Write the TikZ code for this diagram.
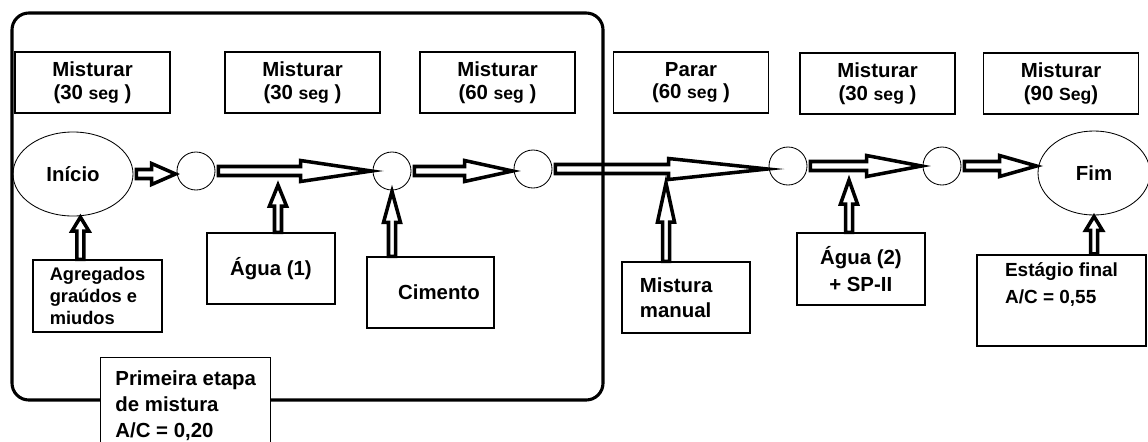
\documentclass[tikz,border=0pt]{standalone}
\usepackage{fontspec}
\setmainfont{Liberation Sans}
\usetikzlibrary{calc,shapes.geometric}

% one unit of the grid, in pt
\def\pxu{0.7113pt}
\newcommand\bigtxt{\fontsize{14.5}{16}\selectfont}
\newcommand\segtxt{\fontsize{12.5}{14}\selectfont}

% hollow block arrow pointing right, head length in grid units
\newcommand\fatright[3]{%
  \draw[fatline] let \p1=(#1), \p2=(#2) in
    (\x1+3*\pxu,\y1+4.5*\pxu) -- (\x2-#3*\pxu,\y1+4.5*\pxu)
    -- (\x2-#3*\pxu,\y1+10.5*\pxu) -- (\x2-1*\pxu,\y1)
    -- (\x2-#3*\pxu,\y1-10.5*\pxu) -- (\x2-#3*\pxu,\y1-4.5*\pxu)
    -- (\x1+3*\pxu,\y1-4.5*\pxu) -- cycle;}
% hollow block arrow pointing up, tail on the box, tip on the target
\newcommand\fatup[3]{%
  \draw[fatline] let \p1=(#1), \p2=(#2) in
    (\x2-3.5*\pxu,\y1) -- (\x2-3.5*\pxu,\y2-#3*\pxu)
    -- (\x2-8.5*\pxu,\y2-#3*\pxu) -- (\x2,\y2-1*\pxu)
    -- (\x2+8.5*\pxu,\y2-#3*\pxu) -- (\x2+3.5*\pxu,\y2-#3*\pxu)
    -- (\x2+3.5*\pxu,\y1) -- cycle;}

\begin{document}
\begin{tikzpicture}[x=0.025cm, y=-0.025cm, font=\bfseries\bigtxt,
  stagebox/.style={draw, line width=1pt, fill=white, align=center,
    inner sep=0pt, minimum width=155*\pxu, minimum height=61*\pxu},
  inbox/.style={draw, line width=1pt, fill=white, align=left, inner sep=0pt},
  junction/.style={draw, circle, line width=0.6pt, fill=white,
    minimum size=38*\pxu, inner sep=0pt},
  endpoint/.style={draw, ellipse, line width=0.6pt, fill=white, inner sep=0pt},
  fatline/.style={line width=2.5pt, fill=white, line join=miter}]

  \clip (0,0) rectangle (1148,441);
  \fill[white] (0,0) rectangle (1148,441);

  %% timing boxes along the top
  \node[stagebox] (mix1) at (92.5,82.5)  {Misturar\\(30 {\segtxt seg} )};
  \node[stagebox] (mix2) at (302.5,82.5) {Misturar\\(30 {\segtxt seg} )};
  \node[stagebox] (mix3) at (497.5,82.5) {Misturar\\(60 {\segtxt seg} )};
  \node[stagebox] (stop) at (691,82.5)   {Parar\\(60 {\segtxt seg} )};
  \node[stagebox] (mix4) at (877.5,83.5) {Misturar\\(30 {\segtxt seg} )};
  \node[stagebox] (mix5) at (1061,83.5)  {Misturar\\(90 {\segtxt Seg})};

  %% main line: start, junctions, end
  \node[endpoint, minimum width=120*\pxu, minimum height=84*\pxu]
    (start) at (73,174) {Início};
  \node[junction] (j1) at (196,171) {};
  \node[junction] (j2) at (392,171) {};
  \node[junction] (j3) at (533,169) {};
  \node[junction] (j4) at (788,166) {};
  \node[junction] (j5) at (942,166) {};
  \node[endpoint, minimum width=112*\pxu, minimum height=84*\pxu]
    (end) at (1094,173) {Fim};

  %% materials coming in from below
  \node[inbox, minimum width=129*\pxu, minimum height=72*\pxu,
    font=\bfseries\fontsize{13}{15.5}\selectfont]
    (agg) at (97.5,296) {Agregados\\graúdos e\\miudos};
  \node[inbox, minimum width=128*\pxu, minimum height=71*\pxu]
    (water1) at (271,268.5) {Água (1)};
  \node[inbox, minimum width=127*\pxu, minimum height=71*\pxu]
    (cement) at (430.5,292.5) {\hspace*{12pt}Cimento};
  \node[inbox, minimum width=128*\pxu, minimum height=71*\pxu,
    font=\bfseries\fontsize{14.5}{18}\selectfont]
    (manual) at (686,297.5) {Mistura\hspace*{14pt}\\manual};
  \node[inbox, minimum width=128*\pxu, minimum height=72*\pxu,
    font=\bfseries\fontsize{14.5}{19.5}\selectfont]
    (water2) at (861,269) {Água (2)\\\ \,+ SP-II};
  \node[inbox, line width=1.6pt, minimum width=169*\pxu, minimum height=91*\pxu,
    font=\bfseries\fontsize{13.5}{19}\selectfont]
    (final) at (1061.5,300.5) {Estágio final\\A/C = 0,55\\[6pt]};

  %% free ends of the feed arrows
  \coordinate (w1tip) at (278,184);
  \coordinate (mantip) at (666,182);
  \coordinate (w2tip) at (849,179);

  %% flow arrows
  \fatright{start.east}{j1.west}{25}
  \fatright{j1.east}{j2.west}{72}
  \fatright{j2.east}{j3.west}{49}
  \fatright{j3.east}{j4.west}{100}
  \fatright{j4.east}{j5.west}{56}
  \fatright{j5.east}{end.west}{38}

  \fatup{agg.north}{start.-80}{15}
  \fatup{water1.north}{w1tip}{22}
  \fatup{cement.north}{j2.south}{32}
  \fatup{manual.north}{mantip}{40}
  \fatup{water2.north}{w2tip}{25}
  \fatup{final.north}{end.south}{15}

  %% first mixing stage frame
  \draw[line width=2.2pt, rounded corners=12] (12,13) rectangle (603,400);
  \node[inbox, anchor=north west, inner xsep=7pt, inner ysep=9pt,
    minimum width=170*\pxu, font=\bfseries\fontsize{14.5}{18.5}\selectfont]
    (stage1) at (100,357) {Primeira etapa\\de mistura\\A/C = 0,20};
\end{tikzpicture}
\end{document}
